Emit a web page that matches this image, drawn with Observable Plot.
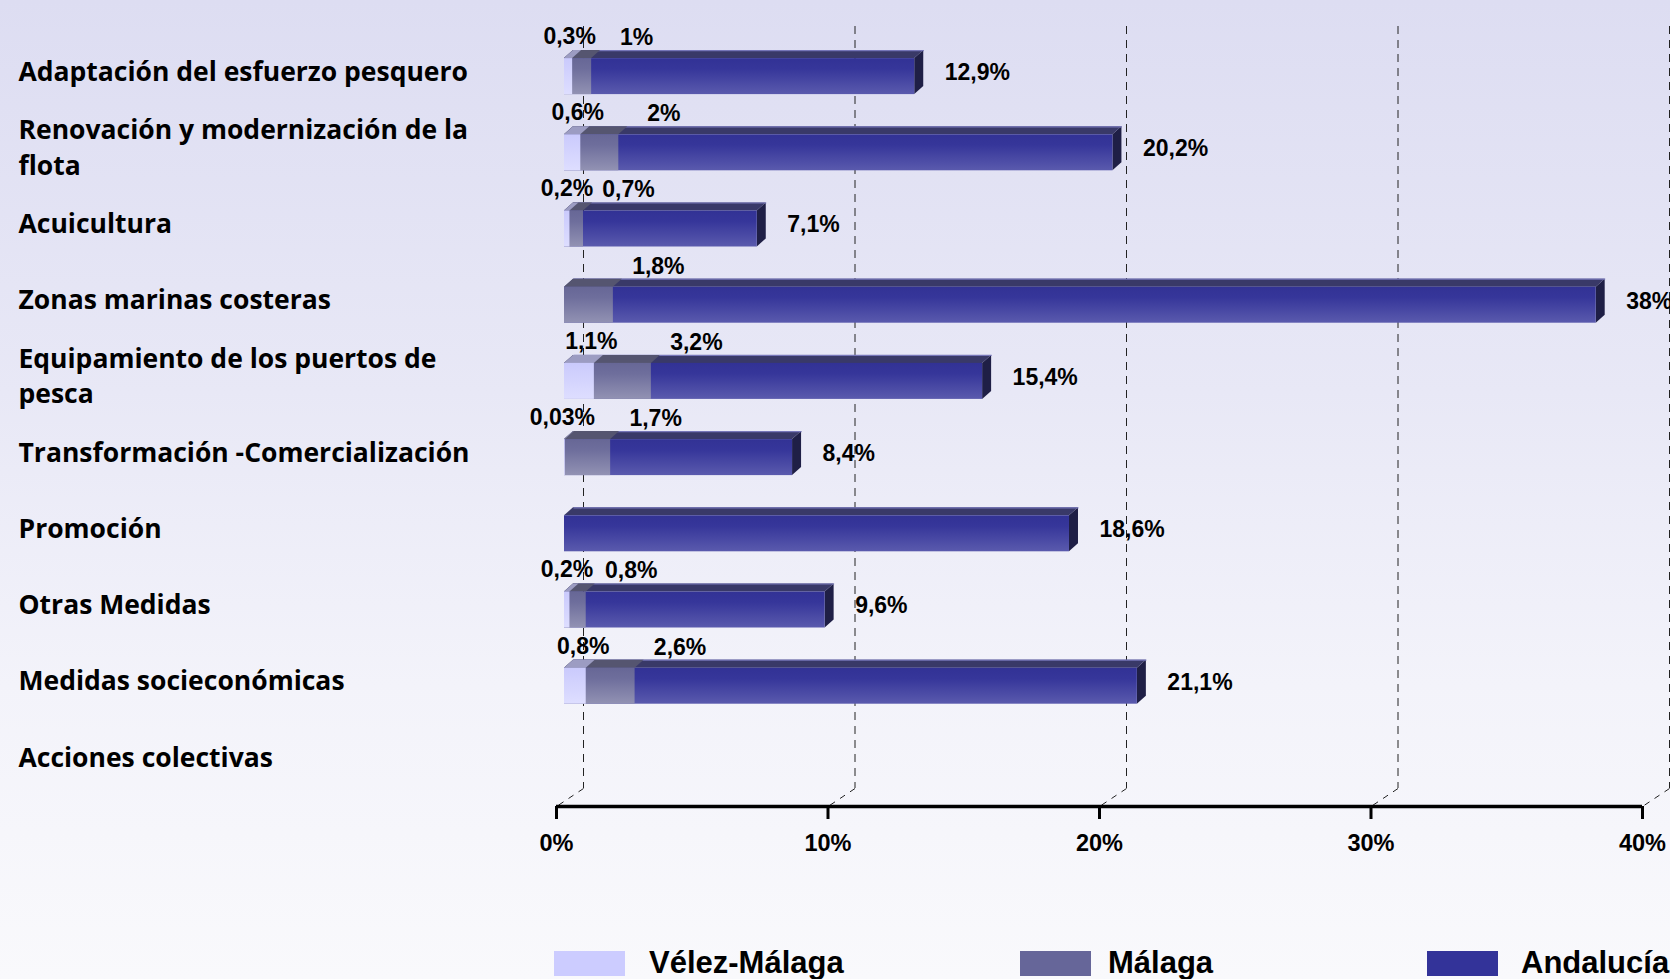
<!DOCTYPE html>
<html><head><meta charset="utf-8">
<script src="https://cdn.jsdelivr.net/npm/d3@7"></script>
<script src="https://cdn.jsdelivr.net/npm/@observablehq/plot@0.6"></script>
<style>
html,body{margin:0;padding:0;width:1670px;height:979px;overflow:hidden;}
body{background:linear-gradient(to bottom,#DDDDF2 0%,#E8E8F6 40%,#F3F3FA 70%,#F9F9FC 100%);font-family:"Liberation Sans",Arial,sans-serif;}
#chart svg{display:block;background:transparent;overflow:visible;}
#legend{position:relative;height:39px;width:1670px;}
.sw{position:absolute;top:11px;width:71px;height:25px;}
.lt{position:absolute;top:6px;font:bold 31px "Liberation Sans",Arial,sans-serif;line-height:34px;color:#000;}
</style></head>
<body>
<svg width="0" height="0" style="position:absolute"><defs>
<linearGradient id="gA" x1="0" y1="0" x2="0" y2="1"><stop offset="0" stop-color="#323295"/><stop offset="0.3" stop-color="#36369A"/><stop offset="1" stop-color="#5A5AAD"/></linearGradient>
<linearGradient id="gM" x1="0" y1="0" x2="0" y2="1"><stop offset="0" stop-color="#676796"/><stop offset="0.3" stop-color="#6E6E9C"/><stop offset="1" stop-color="#9292B3"/></linearGradient>
<linearGradient id="gV" x1="0" y1="0" x2="0" y2="1"><stop offset="0" stop-color="#CACAFC"/><stop offset="1" stop-color="#DEDEFF"/></linearGradient>
</defs></svg>
<div id="chart"></div>
<div id="legend"></div>
<script>
// ---- data ----
const categories = [
  "Adaptación del esfuerzo pesquero",
  "Renovación y modernización de la\nflota",
  "Acuicultura",
  "Zonas marinas costeras",
  "Equipamiento de los puertos de\npesca",
  "Transformación -Comercialización",
  "Promoción",
  "Otras Medidas",
  "Medidas socieconómicas",
  "Acciones colectivas"
];
const velez     = [0.3, 0.6, 0.2, null, 1.1, 0.03, null, 0.2, 0.8, null];
const malaga    = [1,   2,   0.7, 1.8,  3.2, 1.7,  null, 0.8, 2.6, null];
const andalucia = [12.9, 20.2, 7.1, 38, 15.4, 8.4, 18.6, 9.6, 21.1, null];
const seriesNames = ["Vélez-Málaga", "Málaga", "Andalucía"];
const xTicks = [0, 10, 20, 30, 40];

// ---- style / layout ----
const legendColors = ["#CCCCFF", "#666699", "#333399"];
const W = 1670, H = 940, mL = 556, mR = 28, mT = 44, mB = 134;
const xMax = xTicks[xTicks.length - 1];
const pxX = (W - mL - mR) / xMax;
const pxRow = (H - mT - mB) / categories.length;
const h = 18 / pxRow;         // half bar height (rows)
const dX = 9 / pxX;           // depth in x (data units)
const dY = 8 / pxRow;         // depth in y (rows)
const barDx = 8, barDy = -6;
const fmt = v => String(v).replace(".", ",") + "%";

const barsOf = vals => vals.map((v, i) => ({i, v})).filter(d => d.v != null && d.v > 0);
const topFace = bars => bars.flatMap(d => [
  {key: d.i, y: d.i - h, x1: 0, x2: d.v},
  {key: d.i, y: d.i - h - dY, x1: dX, x2: d.v + dX}
]);
const sideFace = bars => bars.flatMap(d => [
  {key: d.i, x: d.v, y1: d.i - h, y2: d.i + h},
  {key: d.i, x: d.v + dX, y1: d.i - h - dY, y2: d.i + h - dY}
]);

const bA = barsOf(andalucia), bM = barsOf(malaga), bV = barsOf(velez);
const off = {dx: barDx, dy: barDy};
const lbl = {fontSize: 23, fontWeight: "bold", fill: "#000", fontFamily: "Liberation Sans, Arial, sans-serif"};
const yEnd = categories.length - 0.5;
const gridDx = 27, gridDy = -18;

const plot = Plot.plot({
  width: W, height: H,
  marginLeft: mL, marginRight: mR, marginTop: mT, marginBottom: mB,
  style: {background: "transparent", color: "#000", fontFamily: "Liberation Sans, Arial, sans-serif"},
  x: {domain: [0, xMax]},
  y: {domain: [-0.5, yEnd], reverse: true, axis: null},
  marks: [
    // back-wall dashed grid
    Plot.ruleX(xTicks, {x: d => d, dx: gridDx, dy: gridDy, stroke: "#222", strokeWidth: 1, strokeDasharray: "8,6"}),
    Plot.link(xTicks, {x1: d => d + gridDx / pxX, x2: d => d, y1: yEnd + gridDy / pxRow, y2: yEnd, stroke: "#222", strokeWidth: 1, strokeDasharray: "6,6"}),
    // Andalucía
    Plot.areaY(sideFace(bA), {x: "x", y1: "y1", y2: "y2", z: "key", fill: "#1F1F46", ...off}),
    Plot.areaX(topFace(bA), {y: "y", x1: "x1", x2: "x2", z: "key", fill: "#393968", ...off}),
    Plot.link(bA, {x1: dX, x2: d => d.v + dX, y1: d => d.i - h - dY, y2: d => d.i - h - dY, stroke: "#7676B8", strokeWidth: 1.2, ...off}),
    Plot.rect(bA, {x1: 0, x2: "v", y1: d => d.i - h, y2: d => d.i + h, fill: "url(#gA)", ...off}),
    // Málaga
    Plot.areaX(topFace(bM), {y: "y", x1: "x1", x2: "x2", z: "key", fill: "#555570", ...off}),
    Plot.rect(bM, {x1: 0, x2: "v", y1: d => d.i - h, y2: d => d.i + h, fill: "url(#gM)", ...off}),
    // Vélez-Málaga
    Plot.areaX(topFace(bV), {y: "y", x1: "x1", x2: "x2", z: "key", fill: "#9C9CC2", ...off}),
    Plot.rect(bV, {x1: 0, x2: "v", y1: d => d.i - h, y2: d => d.i + h, fill: "url(#gV)", ...off}),
    // value labels
    Plot.text(bV, {x: "v", y: "i", text: d => fmt(d.v), dx: 5, dy: -46, textAnchor: "middle", ...lbl}),
    Plot.text(bM, {x: "v", y: "i", text: d => fmt(d.v), dx: 53, dy: -45, textAnchor: "middle", ...lbl}),
    Plot.text(bA, {x: "v", y: "i", text: d => fmt(d.v), dx: 38, dy: -10, textAnchor: "start", ...lbl}),
    // category labels
    Plot.text(categories, {y: (d, i) => i, text: d => d, frameAnchor: "left", textAnchor: "start",
      dx: 18 - mL, dy: -13, lineAnchor: "middle", lineHeight: 1.33,
      fontSize: 26.5, fontWeight: "bold", fill: "#000", fontFamily: "Open Sans, Lato, sans-serif"}),
    // x axis
    Plot.ruleY([yEnd], {x1: 0, x2: xMax, stroke: "#000", strokeWidth: 3.5}),
    Plot.axisX({ticks: xTicks, tickSize: 13, tickPadding: 15, strokeWidth: 3, tickFormat: d => d + "%",
      fontSize: 23.5, fontWeight: "bold", fill: "#000", stroke: "#000"})
  ]
});
document.getElementById("chart").appendChild(plot);

// legend
const legend = document.getElementById("legend");
const swX = [554, 1020, 1427], txX = [649, 1108, 1521];
seriesNames.forEach((name, k) => {
  const s = document.createElement("div");
  s.className = "sw"; s.style.left = swX[k] + "px"; s.style.background = legendColors[k];
  legend.appendChild(s);
  const t = document.createElement("div");
  t.className = "lt"; t.style.left = txX[k] + "px"; t.textContent = name;
  legend.appendChild(t);
});
</script>
</body></html>
